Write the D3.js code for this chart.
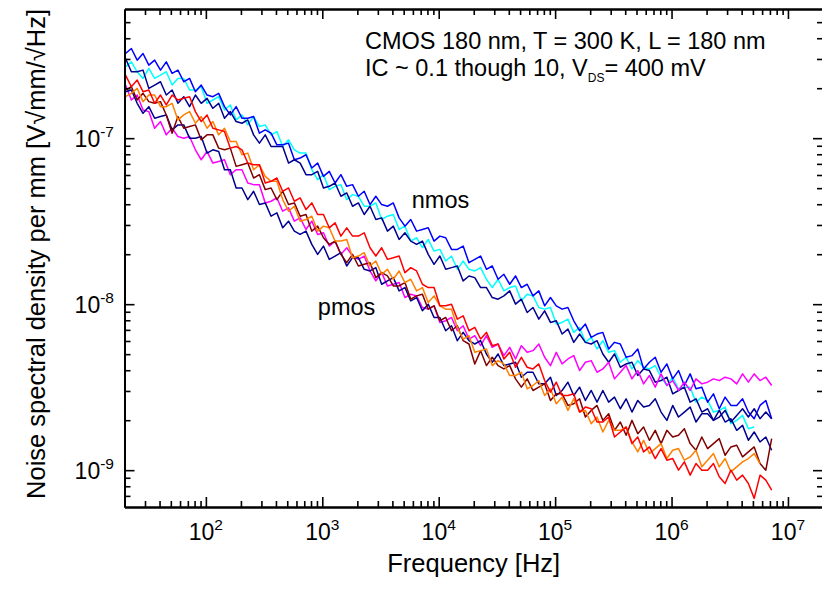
<!DOCTYPE html>
<html><head><meta charset="utf-8">
<script src="https://cdn.jsdelivr.net/npm/d3@7"></script>
<style>html,body{margin:0;padding:0;background:#fff;} svg{display:block;}</style>
</head><body>
<svg id="chart" width="822" height="594"></svg>
<script>
// log10(frequency [Hz]) grid shared by all traces
const logFreq = [1.31,1.36,1.41,1.46,1.51,1.56,1.61,1.66,1.71,1.76,
1.81,1.86,1.91,1.96,2.01,2.06,2.11,2.16,2.21,2.26,
2.31,2.36,2.41,2.46,2.51,2.56,2.61,2.66,2.71,2.76,
2.81,2.86,2.91,2.96,3.01,3.06,3.11,3.16,3.21,3.26,
3.31,3.36,3.41,3.46,3.51,3.56,3.61,3.66,3.71,3.76,
3.81,3.86,3.91,3.96,4.01,4.06,4.11,4.16,4.21,4.26,
4.31,4.36,4.41,4.46,4.51,4.56,4.61,4.66,4.71,4.76,
4.81,4.86,4.91,4.96,5.01,5.06,5.11,5.16,5.21,5.26,
5.31,5.36,5.41,5.46,5.51,5.56,5.61,5.66,5.71,5.76,
5.81,5.86,5.91,5.96,6.01,6.06,6.11,6.16,6.21,6.26,
6.31,6.36,6.41,6.46,6.51,6.56,6.61,6.66,6.71,6.76,
6.81,6.86];

// log10(noise spectral density per mm [V·√mm/√Hz])
const nmosCyan = [-6.57,-6.54,-6.60,-6.64,-6.58, -6.64,-6.62,-6.60,-6.68,-6.64, -6.64,-6.71,-6.71,-6.69,-6.79, -6.77,-6.75,-6.83,-6.80,-6.89, -6.86,-6.92,-6.87,-6.93,-6.92, -6.98,-6.96,-7.05,-7.01,-7.07, -7.09,-7.09,-7.19,-7.25,-7.22, -7.31,-7.29,-7.28,-7.37,-7.34, -7.35,-7.41,-7.41,-7.39,-7.49, -7.47,-7.46,-7.55,-7.53,-7.62, -7.60,-7.66,-7.61,-7.68,-7.67, -7.74,-7.71,-7.79,-7.74,-7.79, -7.80,-7.78,-7.85,-7.90,-7.85, -7.92,-7.90,-7.89,-7.98,-7.94, -7.95,-8.02,-8.03,-8.02,-8.12, -8.11,-8.09,-8.17,-8.14,-8.23, -8.20,-8.27,-8.22,-8.29,-8.28, -8.35,-8.32,-8.39,-8.34,-8.38, -8.39,-8.37,-8.44,-8.49,-8.44, -8.51,-8.50,-8.50,-8.59,-8.56, -8.58,-8.65,-8.64,-8.62,-8.72, -8.70,-8.67,-8.75,-8.74];
const nmosBlue = [-6.49,-6.46,-6.53,-6.49,-6.56, -6.53,-6.59,-6.54,-6.61,-6.59, -6.66,-6.64,-6.72,-6.68,-6.74, -6.75,-6.73,-6.81,-6.86,-6.81, -6.88,-6.88,-6.87,-6.97,-6.95, -6.97,-7.04,-7.04,-7.03,-7.13, -7.12,-7.10,-7.18,-7.15,-7.23, -7.20,-7.27,-7.22,-7.29,-7.28, -7.35,-7.32,-7.40,-7.35,-7.40, -7.41,-7.39,-7.48,-7.53,-7.49, -7.56,-7.55,-7.54,-7.62,-7.59, -7.60,-7.67,-7.67,-7.65,-7.75, -7.73,-7.71,-7.79,-7.77,-7.85, -7.82,-7.88,-7.83,-7.90,-7.88, -7.95,-7.92,-8.01,-7.96,-8.01, -8.03,-8.02,-8.10,-8.16,-8.12, -8.20,-8.18,-8.17,-8.27,-8.23, -8.24,-8.32,-8.31,-8.27,-8.39, -8.35,-8.32,-8.41,-8.36,-8.45, -8.40,-8.49,-8.42,-8.51,-8.50, -8.59,-8.54,-8.63,-8.56,-8.61, -8.61,-8.57,-8.65,-8.69,-8.61, -8.58,-8.69];
const nmosNavy = [-6.52,-6.60,-6.60,-6.59,-6.70, -6.68,-6.66,-6.74,-6.71,-6.79, -6.75,-6.81,-6.74,-6.79,-6.76, -6.82,-6.79,-6.88,-6.84,-6.90, -6.91,-6.89,-6.98,-7.03,-6.98, -7.05,-7.05,-7.05,-7.15,-7.13, -7.15,-7.22,-7.22,-7.20,-7.30, -7.29,-7.27,-7.35,-7.33,-7.41, -7.39,-7.46,-7.41,-7.49,-7.48, -7.56,-7.53,-7.61,-7.57,-7.62, -7.64,-7.62,-7.70,-7.76,-7.71, -7.79,-7.78,-7.77,-7.86,-7.83, -7.84,-7.90,-7.90,-7.96,-7.97, -7.95,-7.92,-8.00,-7.97,-8.05, -8.02,-8.09,-8.04,-8.11,-8.10, -8.18,-8.15,-8.23,-8.18,-8.23, -8.24,-8.22,-8.30,-8.35,-8.30, -8.38,-8.36,-8.35,-8.43,-8.39, -8.40,-8.47,-8.46,-8.44,-8.54, -8.52,-8.50,-8.59,-8.57,-8.65, -8.63,-8.70,-8.64,-8.71,-8.69, -8.76,-8.73,-8.82,-8.77,-8.83, -8.80,-8.88];
const pmosMagenta = [-6.68,-6.77,-6.74,-6.83,-6.84, -6.94,-6.90,-6.98,-6.94,-6.99, -7.00,-6.99,-7.07,-7.13,-7.08, -7.15,-7.14,-7.13,-7.22,-7.19, -7.19,-7.27,-7.28,-7.28,-7.39, -7.38,-7.36,-7.44,-7.42,-7.50, -7.48,-7.55,-7.50,-7.58,-7.57, -7.65,-7.62,-7.70,-7.66,-7.71, -7.73,-7.71,-7.80,-7.86,-7.81, -7.89,-7.88,-7.87,-7.96,-7.94, -7.95,-8.02,-8.03,-8.01,-8.11, -8.10,-8.08,-8.16,-8.13,-8.21, -8.19,-8.25,-8.19,-8.26,-8.24, -8.31,-8.26,-8.33,-8.25,-8.29, -8.28,-8.24,-8.32,-8.37,-8.29, -8.36,-8.33,-8.31,-8.40,-8.35, -8.34,-8.41,-8.39,-8.35,-8.45, -8.41,-8.37,-8.45,-8.40,-8.48, -8.43,-8.50,-8.42,-8.49,-8.46, -8.52,-8.47,-8.52,-8.45,-8.48, -8.47,-8.45,-8.46,-8.44,-8.45, -8.48,-8.42,-8.47,-8.42,-8.46, -8.44,-8.49];
const pmosNavy = [-6.72,-6.71,-6.79,-6.85,-6.81, -6.88,-6.87,-6.86,-6.95,-6.92, -6.92,-7.00,-7.00,-6.99,-7.09, -7.07,-7.08,-7.19,-7.19,-7.30, -7.30,-7.37,-7.32,-7.40,-7.39, -7.47,-7.45,-7.54,-7.50,-7.56, -7.58,-7.56,-7.64,-7.70,-7.65, -7.73,-7.71,-7.69,-7.77,-7.72, -7.72,-7.79,-7.80,-7.78,-7.88, -7.86,-7.84,-7.92,-7.90,-7.98, -7.96,-8.04,-8.00,-8.08,-8.08, -8.16,-8.13,-8.22,-8.17,-8.22, -8.24,-8.22,-8.30,-8.35,-8.30, -8.37,-8.36,-8.35,-8.44,-8.41, -8.41,-8.48,-8.48,-8.44,-8.55, -8.52,-8.47,-8.55,-8.50,-8.58, -8.52,-8.59,-8.52,-8.59,-8.56, -8.63,-8.57,-8.65,-8.58,-8.62, -8.61,-8.57,-8.65,-8.70,-8.61, -8.68,-8.65,-8.62,-8.71,-8.66, -8.66,-8.70,-8.68,-8.64,-8.71, -8.67,-8.63,-8.68,-8.63,-8.69, -8.65,-8.69];
const pmosMaroon = [-6.71,-6.69,-6.77,-6.73,-6.78, -6.79,-6.78,-6.86,-6.97,-6.87, -6.94,-6.93,-6.92,-7.01,-6.98, -6.98,-7.06,-7.07,-7.06,-7.17, -7.16,-7.15,-7.24,-7.22,-7.31, -7.30,-7.37,-7.32,-7.40,-7.39, -7.47,-7.46,-7.56,-7.53,-7.60, -7.64,-7.62,-7.70,-7.75,-7.70, -7.77,-7.76,-7.75,-7.84,-7.81, -7.83,-7.89,-7.89,-7.87,-7.97, -7.95,-7.94,-8.03,-8.01,-8.10, -8.08,-8.16,-8.13,-8.22,-8.24, -8.36,-8.28,-8.37,-8.32,-8.37, -8.39,-8.37,-8.45,-8.50,-8.45, -8.52,-8.50,-8.48,-8.58,-8.54, -8.54,-8.61,-8.60,-8.57,-8.68, -8.64,-8.61,-8.70,-8.66,-8.76, -8.71,-8.79,-8.70,-8.78,-8.74, -8.82,-8.76,-8.84,-8.76,-8.80, -8.79,-8.75,-8.84,-8.88,-8.80, -8.87,-8.84,-8.81,-8.91,-8.86, -8.85,-8.92,-8.89,-8.86,-8.96, -9.00,-8.81];
const pmosOrange = [-6.75,-6.73,-6.70,-6.78,-6.74, -6.74,-6.81,-6.81,-6.79,-6.89, -6.86,-6.84,-6.91,-6.87,-6.94, -6.90,-6.98,-6.94,-7.02,-7.02, -7.10,-7.09,-7.19,-7.16,-7.23, -7.26,-7.26,-7.37,-7.44,-7.41, -7.50,-7.49,-7.47,-7.56,-7.53, -7.54,-7.62,-7.62,-7.61,-7.72, -7.71,-7.69,-7.77,-7.74,-7.82, -7.79,-7.85,-7.80,-7.87,-7.85, -7.92,-7.90,-7.99,-7.95,-8.01, -8.03,-8.03,-8.14,-8.21,-8.19, -8.29,-8.28,-8.27,-8.37,-8.34, -8.36,-8.43,-8.43,-8.41,-8.51, -8.49,-8.46,-8.55,-8.51,-8.60, -8.56,-8.64,-8.57,-8.65,-8.64, -8.72,-8.68,-8.77,-8.70,-8.76, -8.76,-8.74,-8.83,-8.89,-8.82, -8.90,-8.87,-8.84,-8.93,-8.88, -8.87,-8.94,-8.92,-8.88,-8.98, -8.94,-8.90,-8.98,-8.93,-9.01, -8.98,-8.95,-8.93,-8.90,-8.96];
const pmosRed = [-6.62,-6.69,-6.65,-6.72,-6.71, -6.79,-6.74,-6.80,-6.74,-6.77, -6.76,-6.75,-6.84,-6.90,-6.86, -6.94,-6.95,-6.96,-7.06,-7.05, -7.07,-7.15,-7.16,-7.16,-7.27, -7.26,-7.24,-7.32,-7.30,-7.38, -7.36,-7.43,-7.39,-7.46,-7.46, -7.54,-7.51,-7.59,-7.54,-7.59, -7.59,-7.57,-7.66,-7.71,-7.66, -7.73,-7.72,-7.71,-7.81,-7.78, -7.80,-7.88,-7.90,-7.90,-8.01, -8.01,-8.00,-8.09,-8.07,-8.16, -8.14,-8.21,-8.17,-8.25,-8.24, -8.33,-8.29,-8.38,-8.32,-8.38, -8.39,-8.36,-8.46,-8.53,-8.47, -8.55,-8.55,-8.54,-8.65,-8.62, -8.63,-8.71,-8.71,-8.68,-8.80, -8.77,-8.74,-8.84,-8.80,-8.89, -8.86,-8.93,-8.87,-8.94,-8.93, -9.00,-8.95,-9.03,-8.96,-9.00, -9.00,-8.96,-9.04,-9.08,-9.00, -9.06,-9.03,-9.08,-9.17,-9.03, -9.06,-9.12];

const seriesNames = ["nmos cyan","nmos blue","nmos navy","pmos magenta","pmos navy","pmos maroon","pmos orange","pmos red"];
const seriesValues = [nmosCyan, nmosBlue, nmosNavy, pmosMagenta, pmosNavy, pmosMaroon, pmosOrange, pmosRed];
const seriesColors = ["#00ffff","#0000ff","#000090","#ff00ff","#000090","#800000","#ff8000","#ff0000"];

const xTickExps = [2,3,4,5,6,7];
const yTickExps = [-9,-8,-7];
const xTitle = "Frequency [Hz]";
const yTitle = "Noise spectral density per mm [V\u221Amm/\u221AHz]";
const note1 = "CMOS 180 nm, T = 300 K, L = 180 nm";
const note2a = "IC ~ 0.1 though 10, V";
const note2sub = "DS";
const note2b = "= 400 mV";
const groupLabels = [{t:"nmos", f:5.87e3, v:3.8e-8}, {t:"pmos", f:9.16e2, v:8.6e-9}];

const FONT = "'Liberation Sans', Arial, Helvetica, sans-serif";
const M = {left:124.5, right:823, top:9, bottom:507};
const svg = d3.select("#chart").style("font-family", FONT);
svg.append("rect").attr("width",822).attr("height",594).attr("fill","#fff");

const x = d3.scaleLog().domain([20, 2e7]).range([M.left, M.right]);
const y = d3.scaleLog().domain([6e-10, 6e-7]).range([M.bottom, M.top]);

svg.append("clipPath").attr("id","clip").append("rect")
  .attr("x",M.left).attr("y",M.top).attr("width",M.right-M.left).attr("height",M.bottom-M.top);

// traces
const line = d3.line().x(d => x(d[0])).y(d => y(d[1]));
const gLines = svg.append("g").attr("clip-path","url(#clip)");
seriesValues.forEach((vals, k) => {
  const pts = vals.map((lv, i) => [Math.pow(10, logFreq[i]), Math.pow(10, lv)]);
  gLines.append("path").datum(pts)
    .attr("d", line).attr("fill","none")
    .attr("stroke", seriesColors[k]).attr("stroke-width",1.5)
    .attr("stroke-linejoin","round").attr("data-name", seriesNames[k]);
});

// axes
const isMajor = v => Math.abs(Math.log10(v) - Math.round(Math.log10(v))) < 1e-9;
const xAll = x.ticks().filter(v => v > x.domain()[0] * 1.001 && v < x.domain()[1] * 0.999);
const xMaj = xAll.filter(isMajor), xMin = xAll.filter(v => !isMajor(v));
const yAll = y.ticks().filter(v => v > y.domain()[0] * 1.001 && v < y.domain()[1] * 0.999);
const yMaj = yAll.filter(isMajor), yMin = yAll.filter(v => !isMajor(v));

function drawAxis(gen, transform){
  const g = svg.append("g").attr("transform", transform);
  g.call(gen);
  g.selectAll("text").remove();
  g.selectAll(".tick line").attr("stroke","#000").attr("stroke-width",1.6);
  g.select(".domain").attr("stroke","#000").attr("stroke-width",2);
  return g;
}
[[xMaj,10],[xMin,6]].forEach(([vals,len]) => {
  drawAxis(d3.axisBottom(x).tickValues(vals).tickSizeInner(-len).tickSizeOuter(0).tickFormat(""), `translate(0,${M.bottom})`);
  drawAxis(d3.axisTop(x).tickValues(vals).tickSizeInner(-len).tickSizeOuter(0).tickFormat(""), `translate(0,${M.top})`);
});
[[yMaj,10],[yMin,6]].forEach(([vals,len]) => {
  drawAxis(d3.axisLeft(y).tickValues(vals).tickSizeInner(-len).tickSizeOuter(0).tickFormat(""), `translate(${M.left},0)`);
  drawAxis(d3.axisRight(y).tickValues(vals).tickSizeInner(-len).tickSizeOuter(0).tickFormat(""), `translate(${M.right},0)`);
});

// tick labels
xTickExps.forEach(e => {
  const t = svg.append("text").attr("x", x(Math.pow(10,e))).attr("y", 540)
    .attr("text-anchor","middle").attr("font-size",23).attr("fill","#000");
  t.append("tspan").text("10");
  t.append("tspan").attr("dy",-10).attr("font-size",15.5).text(String(e));
});
yTickExps.forEach(e => {
  const t = svg.append("text").attr("x", 114).attr("y", y(Math.pow(10,e)) + 9)
    .attr("text-anchor","end").attr("font-size",23).attr("fill","#000");
  t.append("tspan").text("10");
  t.append("tspan").attr("dy",-10).attr("font-size",15.5).text(String(e));
});

// titles
svg.append("text").attr("x",(M.left+M.right)/2).attr("y",572)
  .attr("text-anchor","middle").attr("font-size",25.5).attr("fill","#000").text(xTitle);
svg.append("text").attr("transform",`translate(45,${(M.top+M.bottom)/2 - 4}) rotate(-90)`)
  .attr("text-anchor","middle").attr("font-size",25.5).attr("fill","#000").text(yTitle);

// annotation (two lines)
svg.append("text").attr("x",365).attr("y",48.5).attr("font-size",23.5).attr("fill","#000").text(note1);
const n2 = svg.append("text").attr("x",365).attr("y",75.5).attr("font-size",23.5).attr("fill","#000");
n2.append("tspan").text(note2a);
n2.append("tspan").attr("dy",6).attr("font-size",12).text(note2sub);
n2.append("tspan").attr("dy",-6).text(note2b);

groupLabels.forEach(d => {
  svg.append("text").attr("x", x(d.f)).attr("y", y(d.v)).attr("font-size",23.5).attr("fill","#000").text(d.t);
});
</script>
</body></html>
